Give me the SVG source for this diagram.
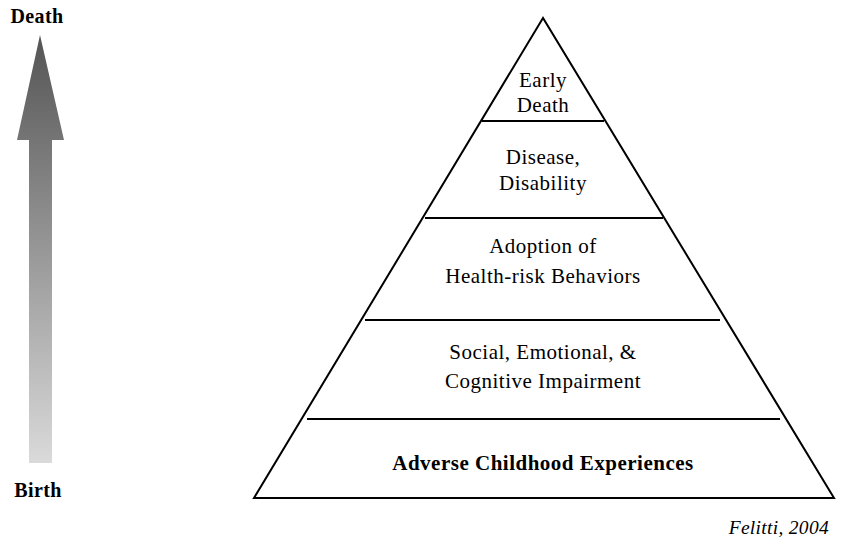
<svg xmlns="http://www.w3.org/2000/svg" width="843" height="539" viewBox="0 0 843 539">
<defs>
<linearGradient id="g" x1="0" y1="0" x2="0" y2="1">
<stop offset="0" stop-color="#545454"/>
<stop offset="1" stop-color="#dadada"/>
</linearGradient>
<style>
.t{font-family:"Liberation Serif",serif;font-size:21px;letter-spacing:0.5px;fill:#000;text-anchor:middle}
.b{font-weight:bold}
.s{font-size:20px;font-weight:bold;letter-spacing:0.4px}
.ln{stroke:#000;stroke-width:2;fill:none}
</style>
</defs>
<rect width="843" height="539" fill="#fff"/>
<g id="arrow">
<path d="M40 35 L64 140 L52 140 L52 463 L29 463 L29 140 L17 140 Z" fill="url(#g)"/>
<text class="t s" x="37" y="23">Death</text>
<text class="t s" x="38" y="497">Birth</text>
</g>
<g id="pyramid">
<path class="ln" d="M543 18 L254 498 L834 498 Z" stroke-linejoin="miter"/>
</g>
<g id="connectors">
<line class="ln" x1="482" y1="121" x2="604" y2="121"/>
<line class="ln" x1="425" y1="218" x2="663" y2="218"/>
<line class="ln" x1="365" y1="320" x2="720" y2="320"/>
<line class="ln" x1="307" y1="419" x2="780" y2="419"/>
</g>
<g id="n1"><text class="t" x="543" y="87">Early</text><text class="t" x="543" y="112">Death</text></g>
<g id="n2"><text class="t" x="543" y="164">Disease,</text><text class="t" x="543" y="190">Disability</text></g>
<g id="n3"><text class="t" x="543" y="253">Adoption of</text><text class="t" x="543" y="283">Health-risk Behaviors</text></g>
<g id="n4"><text class="t" x="543" y="359">Social, Emotional, &amp;</text><text class="t" x="543" y="388">Cognitive Impairment</text></g>
<g id="n5"><text class="t b" x="543" y="470">Adverse Childhood Experiences</text></g>
<text x="829" y="534" style="font-family:'Liberation Serif',serif;font-size:19.5px;text-anchor:end;font-style:italic;letter-spacing:0.3px">Felitti, 2004</text>
</svg>
